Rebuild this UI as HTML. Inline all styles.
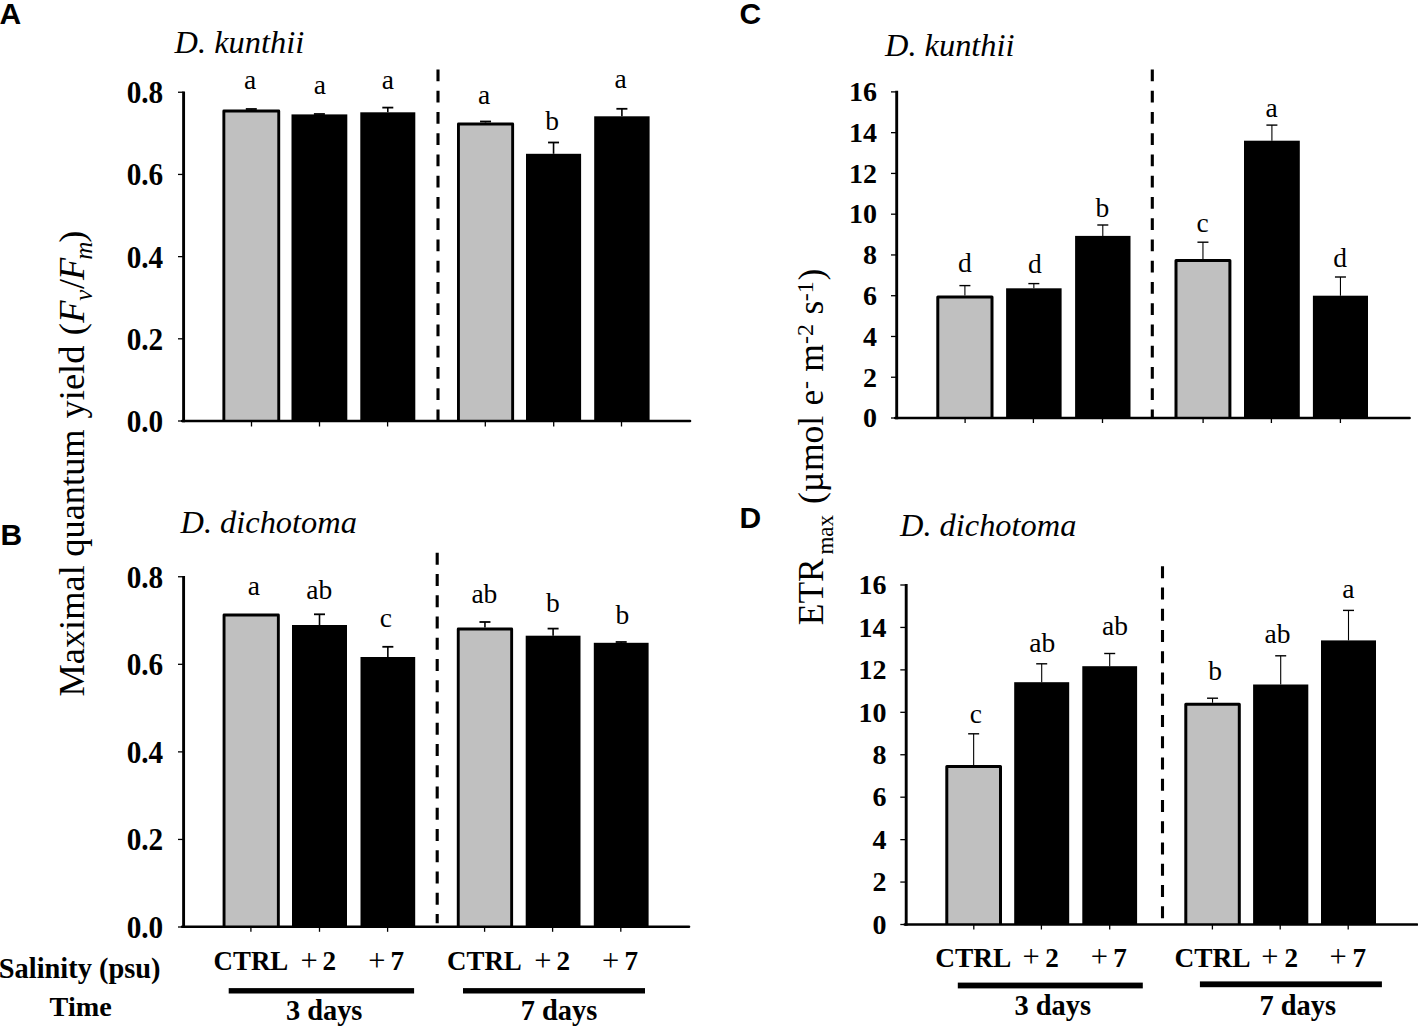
<!DOCTYPE html>
<html><head><meta charset="utf-8"><style>
html,body{margin:0;padding:0;background:#fff;}
body{width:1418px;height:1026px;overflow:hidden;font-family:"Liberation Serif",serif;}
svg{display:block;}
</style></head><body>
<svg width="1418" height="1026" viewBox="0 0 1418 1026">
<rect x="0" y="0" width="1418" height="1026" fill="#fff"/>
<rect x="223.85" y="110.95" width="54.90" height="310.05" fill="#c0c0c0"/>
<path d="M223.85,421.00 V110.95 H278.75 V421.00" fill="none" stroke="#000" stroke-width="2.9" stroke-linejoin="round"/>
<line x1="251.30" y1="109.50" x2="251.30" y2="109.00" stroke="#000" stroke-width="1.6"/>
<line x1="245.80" y1="109.00" x2="256.80" y2="109.00" stroke="#000" stroke-width="1.8"/>
<text x="250.00" y="89.30" font-size="27.5" text-anchor="middle" font-weight="normal" font-style="normal" font-family='"Liberation Serif", serif' >a</text>
<rect x="291.50" y="114.40" width="55.80" height="306.60" fill="#000"/>
<line x1="319.40" y1="114.40" x2="319.40" y2="114.00" stroke="#000" stroke-width="1.6"/>
<line x1="313.90" y1="114.00" x2="324.90" y2="114.00" stroke="#000" stroke-width="1.8"/>
<text x="319.75" y="93.80" font-size="27.5" text-anchor="middle" font-weight="normal" font-style="normal" font-family='"Liberation Serif", serif' >a</text>
<rect x="360.30" y="112.30" width="55.00" height="308.70" fill="#000"/>
<line x1="387.80" y1="112.30" x2="387.80" y2="107.60" stroke="#000" stroke-width="1.6"/>
<line x1="382.30" y1="107.60" x2="393.30" y2="107.60" stroke="#000" stroke-width="1.8"/>
<text x="387.75" y="89.00" font-size="27.5" text-anchor="middle" font-weight="normal" font-style="normal" font-family='"Liberation Serif", serif' >a</text>
<rect x="458.45" y="123.95" width="54.20" height="297.05" fill="#c0c0c0"/>
<path d="M458.45,421.00 V123.95 H512.65 V421.00" fill="none" stroke="#000" stroke-width="2.9" stroke-linejoin="round"/>
<line x1="485.55" y1="122.50" x2="485.55" y2="121.50" stroke="#000" stroke-width="1.6"/>
<line x1="480.05" y1="121.50" x2="491.05" y2="121.50" stroke="#000" stroke-width="1.8"/>
<text x="484.10" y="104.00" font-size="27.5" text-anchor="middle" font-weight="normal" font-style="normal" font-family='"Liberation Serif", serif' >a</text>
<rect x="526.00" y="153.80" width="55.10" height="267.20" fill="#000"/>
<line x1="553.55" y1="153.80" x2="553.55" y2="142.50" stroke="#000" stroke-width="1.6"/>
<line x1="548.05" y1="142.50" x2="559.05" y2="142.50" stroke="#000" stroke-width="1.8"/>
<text x="552.20" y="129.60" font-size="27.5" text-anchor="middle" font-weight="normal" font-style="normal" font-family='"Liberation Serif", serif' >b</text>
<rect x="594.20" y="116.30" width="55.40" height="304.70" fill="#000"/>
<line x1="621.90" y1="116.30" x2="621.90" y2="108.80" stroke="#000" stroke-width="1.6"/>
<line x1="616.40" y1="108.80" x2="627.40" y2="108.80" stroke="#000" stroke-width="1.8"/>
<text x="620.50" y="88.00" font-size="27.5" text-anchor="middle" font-weight="normal" font-style="normal" font-family='"Liberation Serif", serif' >a</text>
<line x1="438" y1="69.4" x2="438" y2="421" stroke="#000" stroke-width="3.1" stroke-dasharray="11.9 9.35"/>
<line x1="183.6" y1="91.5" x2="183.6" y2="422.3" stroke="#000" stroke-width="2.9"/>
<line x1="182.15" y1="421.0" x2="690" y2="421.0" stroke="#000" stroke-width="2.6" stroke-linecap="round"/>
<line x1="178" y1="92.25" x2="183.6" y2="92.25" stroke="#000" stroke-width="1.3"/>
<g transform="translate(163.2,103.15) scale(0.975,1.055)">
<text x="0" y="0" font-size="30" text-anchor="end" font-weight="bold" font-style="normal" font-family='"Liberation Serif", serif' >0.8</text>
</g>
<line x1="178" y1="174.4375" x2="183.6" y2="174.4375" stroke="#000" stroke-width="1.3"/>
<g transform="translate(163.2,185.34) scale(0.975,1.055)">
<text x="0" y="0" font-size="30" text-anchor="end" font-weight="bold" font-style="normal" font-family='"Liberation Serif", serif' >0.6</text>
</g>
<line x1="178" y1="256.625" x2="183.6" y2="256.625" stroke="#000" stroke-width="1.3"/>
<g transform="translate(163.2,267.52) scale(0.975,1.055)">
<text x="0" y="0" font-size="30" text-anchor="end" font-weight="bold" font-style="normal" font-family='"Liberation Serif", serif' >0.4</text>
</g>
<line x1="178" y1="338.8125" x2="183.6" y2="338.8125" stroke="#000" stroke-width="1.3"/>
<g transform="translate(163.2,349.71) scale(0.975,1.055)">
<text x="0" y="0" font-size="30" text-anchor="end" font-weight="bold" font-style="normal" font-family='"Liberation Serif", serif' >0.2</text>
</g>
<line x1="178" y1="421.0" x2="183.6" y2="421.0" stroke="#000" stroke-width="1.3"/>
<g transform="translate(163.2,431.90) scale(0.975,1.055)">
<text x="0" y="0" font-size="30" text-anchor="end" font-weight="bold" font-style="normal" font-family='"Liberation Serif", serif' >0.0</text>
</g>
<line x1="251.5" y1="421.0" x2="251.5" y2="426.5" stroke="#000" stroke-width="1.3"/>
<line x1="319.5" y1="421.0" x2="319.5" y2="426.5" stroke="#000" stroke-width="1.3"/>
<line x1="387.6" y1="421.0" x2="387.6" y2="426.5" stroke="#000" stroke-width="1.3"/>
<line x1="485.3" y1="421.0" x2="485.3" y2="426.5" stroke="#000" stroke-width="1.3"/>
<line x1="553.7" y1="421.0" x2="553.7" y2="426.5" stroke="#000" stroke-width="1.3"/>
<line x1="621.5" y1="421.0" x2="621.5" y2="426.5" stroke="#000" stroke-width="1.3"/>
<text x="174.6" y="53.3" font-size="32.4" text-anchor="start" font-weight="normal" font-style="italic" font-family='"Liberation Serif", serif' >D. kunthii</text>
<text x="-0.5" y="24.1" font-size="30" text-anchor="start" font-weight="bold" font-style="normal" font-family='"Liberation Sans", sans-serif' >A</text>
<rect x="224.05" y="614.95" width="54.30" height="311.85" fill="#c0c0c0"/>
<path d="M224.05,926.80 V614.95 H278.35 V926.80" fill="none" stroke="#000" stroke-width="2.9" stroke-linejoin="round"/>
<text x="253.75" y="595.40" font-size="27.5" text-anchor="middle" font-weight="normal" font-style="normal" font-family='"Liberation Serif", serif' >a</text>
<rect x="292.00" y="625.00" width="55.00" height="301.80" fill="#000"/>
<line x1="319.50" y1="625.00" x2="319.50" y2="614.30" stroke="#000" stroke-width="1.6"/>
<line x1="314.00" y1="614.30" x2="325.00" y2="614.30" stroke="#000" stroke-width="1.8"/>
<text x="319.25" y="599.00" font-size="27.5" text-anchor="middle" font-weight="normal" font-style="normal" font-family='"Liberation Serif", serif' >ab</text>
<rect x="360.50" y="657.00" width="54.70" height="269.80" fill="#000"/>
<line x1="387.85" y1="657.00" x2="387.85" y2="646.80" stroke="#000" stroke-width="1.6"/>
<line x1="382.35" y1="646.80" x2="393.35" y2="646.80" stroke="#000" stroke-width="1.8"/>
<text x="385.75" y="627.30" font-size="27.5" text-anchor="middle" font-weight="normal" font-style="normal" font-family='"Liberation Serif", serif' >c</text>
<rect x="458.25" y="629.05" width="53.40" height="297.75" fill="#c0c0c0"/>
<path d="M458.25,926.80 V629.05 H511.65 V926.80" fill="none" stroke="#000" stroke-width="2.9" stroke-linejoin="round"/>
<line x1="484.95" y1="627.60" x2="484.95" y2="622.00" stroke="#000" stroke-width="1.6"/>
<line x1="479.45" y1="622.00" x2="490.45" y2="622.00" stroke="#000" stroke-width="1.8"/>
<text x="484.40" y="602.60" font-size="27.5" text-anchor="middle" font-weight="normal" font-style="normal" font-family='"Liberation Serif", serif' >ab</text>
<rect x="525.70" y="635.70" width="54.80" height="291.10" fill="#000"/>
<line x1="553.10" y1="635.70" x2="553.10" y2="628.60" stroke="#000" stroke-width="1.6"/>
<line x1="547.60" y1="628.60" x2="558.60" y2="628.60" stroke="#000" stroke-width="1.8"/>
<text x="552.90" y="612.00" font-size="27.5" text-anchor="middle" font-weight="normal" font-style="normal" font-family='"Liberation Serif", serif' >b</text>
<rect x="593.80" y="642.80" width="54.80" height="284.00" fill="#000"/>
<line x1="621.20" y1="642.80" x2="621.20" y2="642.00" stroke="#000" stroke-width="1.6"/>
<line x1="615.70" y1="642.00" x2="626.70" y2="642.00" stroke="#000" stroke-width="1.8"/>
<text x="622.30" y="623.70" font-size="27.5" text-anchor="middle" font-weight="normal" font-style="normal" font-family='"Liberation Serif", serif' >b</text>
<line x1="437.2" y1="552.75" x2="437.2" y2="923.3" stroke="#000" stroke-width="3.1" stroke-dasharray="11.9 9.35"/>
<line x1="183.6" y1="576.0" x2="183.6" y2="928.0999999999999" stroke="#000" stroke-width="2.9"/>
<line x1="182.15" y1="926.8" x2="689" y2="926.8" stroke="#000" stroke-width="2.6" stroke-linecap="round"/>
<line x1="178" y1="576.75" x2="183.6" y2="576.75" stroke="#000" stroke-width="1.3"/>
<g transform="translate(163.2,587.65) scale(0.975,1.055)">
<text x="0" y="0" font-size="30" text-anchor="end" font-weight="bold" font-style="normal" font-family='"Liberation Serif", serif' >0.8</text>
</g>
<line x1="178" y1="664.3125" x2="183.6" y2="664.3125" stroke="#000" stroke-width="1.3"/>
<g transform="translate(163.2,675.21) scale(0.975,1.055)">
<text x="0" y="0" font-size="30" text-anchor="end" font-weight="bold" font-style="normal" font-family='"Liberation Serif", serif' >0.6</text>
</g>
<line x1="178" y1="751.875" x2="183.6" y2="751.875" stroke="#000" stroke-width="1.3"/>
<g transform="translate(163.2,762.77) scale(0.975,1.055)">
<text x="0" y="0" font-size="30" text-anchor="end" font-weight="bold" font-style="normal" font-family='"Liberation Serif", serif' >0.4</text>
</g>
<line x1="178" y1="839.4375" x2="183.6" y2="839.4375" stroke="#000" stroke-width="1.3"/>
<g transform="translate(163.2,850.34) scale(0.975,1.055)">
<text x="0" y="0" font-size="30" text-anchor="end" font-weight="bold" font-style="normal" font-family='"Liberation Serif", serif' >0.2</text>
</g>
<line x1="178" y1="927.0" x2="183.6" y2="927.0" stroke="#000" stroke-width="1.3"/>
<g transform="translate(163.2,937.90) scale(0.975,1.055)">
<text x="0" y="0" font-size="30" text-anchor="end" font-weight="bold" font-style="normal" font-family='"Liberation Serif", serif' >0.0</text>
</g>
<line x1="250.9" y1="926.8" x2="250.9" y2="931.8" stroke="#000" stroke-width="1.3"/>
<line x1="319.5" y1="926.8" x2="319.5" y2="931.8" stroke="#000" stroke-width="1.3"/>
<line x1="387.6" y1="926.8" x2="387.6" y2="931.8" stroke="#000" stroke-width="1.3"/>
<line x1="484.6" y1="926.8" x2="484.6" y2="931.8" stroke="#000" stroke-width="1.3"/>
<line x1="552.6" y1="926.8" x2="552.6" y2="931.8" stroke="#000" stroke-width="1.3"/>
<line x1="620.8" y1="926.8" x2="620.8" y2="931.8" stroke="#000" stroke-width="1.3"/>
<text x="180.5" y="532.5" font-size="32.4" text-anchor="start" font-weight="normal" font-style="italic" font-family='"Liberation Serif", serif' >D. dichotoma</text>
<text x="0.5" y="545" font-size="30" text-anchor="start" font-weight="bold" font-style="normal" font-family='"Liberation Sans", sans-serif' >B</text>
<rect x="937.80" y="296.90" width="54.20" height="121.10" fill="#c0c0c0"/>
<path d="M937.80,418.00 V296.90 H992.00 V418.00" fill="none" stroke="#000" stroke-width="3.0" stroke-linejoin="round"/>
<line x1="964.90" y1="295.40" x2="964.90" y2="285.60" stroke="#000" stroke-width="1.1"/>
<line x1="959.40" y1="285.60" x2="970.40" y2="285.60" stroke="#000" stroke-width="1.4"/>
<text x="964.80" y="272.00" font-size="27.5" text-anchor="middle" font-weight="normal" font-style="normal" font-family='"Liberation Serif", serif' >d</text>
<rect x="1006.10" y="288.30" width="55.50" height="129.70" fill="#000"/>
<line x1="1033.85" y1="288.30" x2="1033.85" y2="283.60" stroke="#000" stroke-width="1.1"/>
<line x1="1028.35" y1="283.60" x2="1039.35" y2="283.60" stroke="#000" stroke-width="1.4"/>
<text x="1034.80" y="273.10" font-size="27.5" text-anchor="middle" font-weight="normal" font-style="normal" font-family='"Liberation Serif", serif' >d</text>
<rect x="1075.10" y="235.90" width="55.40" height="182.10" fill="#000"/>
<line x1="1102.80" y1="235.90" x2="1102.80" y2="225.00" stroke="#000" stroke-width="1.1"/>
<line x1="1097.30" y1="225.00" x2="1108.30" y2="225.00" stroke="#000" stroke-width="1.4"/>
<text x="1102.30" y="217.20" font-size="27.5" text-anchor="middle" font-weight="normal" font-style="normal" font-family='"Liberation Serif", serif' >b</text>
<rect x="1176.00" y="260.50" width="53.90" height="157.50" fill="#c0c0c0"/>
<path d="M1176.00,418.00 V260.50 H1229.90 V418.00" fill="none" stroke="#000" stroke-width="3.0" stroke-linejoin="round"/>
<line x1="1202.95" y1="259.00" x2="1202.95" y2="242.20" stroke="#000" stroke-width="1.1"/>
<line x1="1197.45" y1="242.20" x2="1208.45" y2="242.20" stroke="#000" stroke-width="1.4"/>
<text x="1202.50" y="232.40" font-size="27.5" text-anchor="middle" font-weight="normal" font-style="normal" font-family='"Liberation Serif", serif' >c</text>
<rect x="1244.00" y="140.70" width="55.80" height="277.30" fill="#000"/>
<line x1="1271.90" y1="140.70" x2="1271.90" y2="125.10" stroke="#000" stroke-width="1.1"/>
<line x1="1266.40" y1="125.10" x2="1277.40" y2="125.10" stroke="#000" stroke-width="1.4"/>
<text x="1271.70" y="117.00" font-size="27.5" text-anchor="middle" font-weight="normal" font-style="normal" font-family='"Liberation Serif", serif' >a</text>
<rect x="1312.90" y="295.70" width="55.10" height="122.30" fill="#000"/>
<line x1="1340.45" y1="295.70" x2="1340.45" y2="277.00" stroke="#000" stroke-width="1.1"/>
<line x1="1334.95" y1="277.00" x2="1345.95" y2="277.00" stroke="#000" stroke-width="1.4"/>
<text x="1340.00" y="267.00" font-size="27.5" text-anchor="middle" font-weight="normal" font-style="normal" font-family='"Liberation Serif", serif' >d</text>
<line x1="1152.3" y1="69.4" x2="1152.3" y2="418" stroke="#000" stroke-width="3.1" stroke-dasharray="11.9 9.35"/>
<line x1="896.7" y1="90.8" x2="896.7" y2="419.3" stroke="#000" stroke-width="2.9"/>
<line x1="895.25" y1="418.0" x2="1409.6" y2="418.0" stroke="#000" stroke-width="2.6" stroke-linecap="round"/>
<line x1="891" y1="91.9" x2="896.7" y2="91.9" stroke="#000" stroke-width="1.3"/>
<text x="877.0" y="101.20" font-size="28" text-anchor="end" font-weight="bold" font-style="normal" font-family='"Liberation Serif", serif' >16</text>
<line x1="891" y1="132.66250000000002" x2="896.7" y2="132.66250000000002" stroke="#000" stroke-width="1.3"/>
<text x="877.0" y="141.96" font-size="28" text-anchor="end" font-weight="bold" font-style="normal" font-family='"Liberation Serif", serif' >14</text>
<line x1="891" y1="173.425" x2="896.7" y2="173.425" stroke="#000" stroke-width="1.3"/>
<text x="877.0" y="182.73" font-size="28" text-anchor="end" font-weight="bold" font-style="normal" font-family='"Liberation Serif", serif' >12</text>
<line x1="891" y1="214.1875" x2="896.7" y2="214.1875" stroke="#000" stroke-width="1.3"/>
<text x="877.0" y="223.49" font-size="28" text-anchor="end" font-weight="bold" font-style="normal" font-family='"Liberation Serif", serif' >10</text>
<line x1="891" y1="254.95000000000002" x2="896.7" y2="254.95000000000002" stroke="#000" stroke-width="1.3"/>
<text x="877.0" y="264.25" font-size="28" text-anchor="end" font-weight="bold" font-style="normal" font-family='"Liberation Serif", serif' >8</text>
<line x1="891" y1="295.7125" x2="896.7" y2="295.7125" stroke="#000" stroke-width="1.3"/>
<text x="877.0" y="305.01" font-size="28" text-anchor="end" font-weight="bold" font-style="normal" font-family='"Liberation Serif", serif' >6</text>
<line x1="891" y1="336.475" x2="896.7" y2="336.475" stroke="#000" stroke-width="1.3"/>
<text x="877.0" y="345.78" font-size="28" text-anchor="end" font-weight="bold" font-style="normal" font-family='"Liberation Serif", serif' >4</text>
<line x1="891" y1="377.23750000000007" x2="896.7" y2="377.23750000000007" stroke="#000" stroke-width="1.3"/>
<text x="877.0" y="386.54" font-size="28" text-anchor="end" font-weight="bold" font-style="normal" font-family='"Liberation Serif", serif' >2</text>
<line x1="891" y1="418.0" x2="896.7" y2="418.0" stroke="#000" stroke-width="1.3"/>
<text x="877.0" y="427.30" font-size="28" text-anchor="end" font-weight="bold" font-style="normal" font-family='"Liberation Serif", serif' >0</text>
<line x1="965.1" y1="418.0" x2="965.1" y2="423.0" stroke="#000" stroke-width="1.3"/>
<line x1="1033.4" y1="418.0" x2="1033.4" y2="423.0" stroke="#000" stroke-width="1.3"/>
<line x1="1102.5" y1="418.0" x2="1102.5" y2="423.0" stroke="#000" stroke-width="1.3"/>
<line x1="1203.1" y1="418.0" x2="1203.1" y2="423.0" stroke="#000" stroke-width="1.3"/>
<line x1="1271.4" y1="418.0" x2="1271.4" y2="423.0" stroke="#000" stroke-width="1.3"/>
<line x1="1340.4" y1="418.0" x2="1340.4" y2="423.0" stroke="#000" stroke-width="1.3"/>
<text x="885.0" y="55.5" font-size="32.4" text-anchor="start" font-weight="normal" font-style="italic" font-family='"Liberation Serif", serif' >D. kunthii</text>
<text x="739.5" y="24.4" font-size="30" text-anchor="start" font-weight="bold" font-style="normal" font-family='"Liberation Sans", sans-serif' >C</text>
<rect x="946.80" y="766.60" width="53.70" height="157.90" fill="#c0c0c0"/>
<path d="M946.80,924.50 V766.60 H1000.50 V924.50" fill="none" stroke="#000" stroke-width="3.0" stroke-linejoin="round"/>
<line x1="973.65" y1="765.10" x2="973.65" y2="733.80" stroke="#000" stroke-width="1.1"/>
<line x1="968.15" y1="733.80" x2="979.15" y2="733.80" stroke="#000" stroke-width="1.4"/>
<text x="975.90" y="722.70" font-size="27.5" text-anchor="middle" font-weight="normal" font-style="normal" font-family='"Liberation Serif", serif' >c</text>
<rect x="1014.20" y="682.20" width="55.00" height="242.30" fill="#000"/>
<line x1="1041.70" y1="682.20" x2="1041.70" y2="663.80" stroke="#000" stroke-width="1.1"/>
<line x1="1036.20" y1="663.80" x2="1047.20" y2="663.80" stroke="#000" stroke-width="1.4"/>
<text x="1042.30" y="652.00" font-size="27.5" text-anchor="middle" font-weight="normal" font-style="normal" font-family='"Liberation Serif", serif' >ab</text>
<rect x="1082.30" y="666.20" width="54.80" height="258.30" fill="#000"/>
<line x1="1109.70" y1="666.20" x2="1109.70" y2="653.50" stroke="#000" stroke-width="1.1"/>
<line x1="1104.20" y1="653.50" x2="1115.20" y2="653.50" stroke="#000" stroke-width="1.4"/>
<text x="1115.10" y="635.10" font-size="27.5" text-anchor="middle" font-weight="normal" font-style="normal" font-family='"Liberation Serif", serif' >ab</text>
<rect x="1185.80" y="704.20" width="53.50" height="220.30" fill="#c0c0c0"/>
<path d="M1185.80,924.50 V704.20 H1239.30 V924.50" fill="none" stroke="#000" stroke-width="3.0" stroke-linejoin="round"/>
<line x1="1212.55" y1="702.70" x2="1212.55" y2="698.20" stroke="#000" stroke-width="1.1"/>
<line x1="1207.05" y1="698.20" x2="1218.05" y2="698.20" stroke="#000" stroke-width="1.4"/>
<text x="1215.00" y="679.60" font-size="27.5" text-anchor="middle" font-weight="normal" font-style="normal" font-family='"Liberation Serif", serif' >b</text>
<rect x="1253.10" y="684.50" width="55.20" height="240.00" fill="#000"/>
<line x1="1280.70" y1="684.50" x2="1280.70" y2="655.80" stroke="#000" stroke-width="1.1"/>
<line x1="1275.20" y1="655.80" x2="1286.20" y2="655.80" stroke="#000" stroke-width="1.4"/>
<text x="1277.50" y="642.60" font-size="27.5" text-anchor="middle" font-weight="normal" font-style="normal" font-family='"Liberation Serif", serif' >ab</text>
<rect x="1321.00" y="640.40" width="55.00" height="284.10" fill="#000"/>
<line x1="1348.50" y1="640.40" x2="1348.50" y2="610.40" stroke="#000" stroke-width="1.1"/>
<line x1="1343.00" y1="610.40" x2="1354.00" y2="610.40" stroke="#000" stroke-width="1.4"/>
<text x="1348.30" y="597.60" font-size="27.5" text-anchor="middle" font-weight="normal" font-style="normal" font-family='"Liberation Serif", serif' >a</text>
<line x1="1162.5" y1="566.3" x2="1162.5" y2="919" stroke="#000" stroke-width="3.1" stroke-dasharray="11.9 9.35"/>
<line x1="906.2" y1="584.0" x2="906.2" y2="925.8" stroke="#000" stroke-width="2.9"/>
<line x1="904.75" y1="924.5" x2="1417" y2="924.5" stroke="#000" stroke-width="2.6" stroke-linecap="round"/>
<line x1="900.3" y1="585.0" x2="906.2" y2="585.0" stroke="#000" stroke-width="1.3"/>
<text x="886.5" y="594.30" font-size="28" text-anchor="end" font-weight="bold" font-style="normal" font-family='"Liberation Serif", serif' >16</text>
<line x1="900.3" y1="627.4375" x2="906.2" y2="627.4375" stroke="#000" stroke-width="1.3"/>
<text x="886.5" y="636.74" font-size="28" text-anchor="end" font-weight="bold" font-style="normal" font-family='"Liberation Serif", serif' >14</text>
<line x1="900.3" y1="669.875" x2="906.2" y2="669.875" stroke="#000" stroke-width="1.3"/>
<text x="886.5" y="679.17" font-size="28" text-anchor="end" font-weight="bold" font-style="normal" font-family='"Liberation Serif", serif' >12</text>
<line x1="900.3" y1="712.3125" x2="906.2" y2="712.3125" stroke="#000" stroke-width="1.3"/>
<text x="886.5" y="721.61" font-size="28" text-anchor="end" font-weight="bold" font-style="normal" font-family='"Liberation Serif", serif' >10</text>
<line x1="900.3" y1="754.75" x2="906.2" y2="754.75" stroke="#000" stroke-width="1.3"/>
<text x="886.5" y="764.05" font-size="28" text-anchor="end" font-weight="bold" font-style="normal" font-family='"Liberation Serif", serif' >8</text>
<line x1="900.3" y1="797.1875" x2="906.2" y2="797.1875" stroke="#000" stroke-width="1.3"/>
<text x="886.5" y="806.49" font-size="28" text-anchor="end" font-weight="bold" font-style="normal" font-family='"Liberation Serif", serif' >6</text>
<line x1="900.3" y1="839.625" x2="906.2" y2="839.625" stroke="#000" stroke-width="1.3"/>
<text x="886.5" y="848.92" font-size="28" text-anchor="end" font-weight="bold" font-style="normal" font-family='"Liberation Serif", serif' >4</text>
<line x1="900.3" y1="882.0625" x2="906.2" y2="882.0625" stroke="#000" stroke-width="1.3"/>
<text x="886.5" y="891.36" font-size="28" text-anchor="end" font-weight="bold" font-style="normal" font-family='"Liberation Serif", serif' >2</text>
<line x1="900.3" y1="924.5" x2="906.2" y2="924.5" stroke="#000" stroke-width="1.3"/>
<text x="886.5" y="933.80" font-size="28" text-anchor="end" font-weight="bold" font-style="normal" font-family='"Liberation Serif", serif' >0</text>
<line x1="973.8" y1="924.5" x2="973.8" y2="929.5" stroke="#000" stroke-width="1.3"/>
<line x1="1041.4" y1="924.5" x2="1041.4" y2="929.5" stroke="#000" stroke-width="1.3"/>
<line x1="1109.7" y1="924.5" x2="1109.7" y2="929.5" stroke="#000" stroke-width="1.3"/>
<line x1="1212.4" y1="924.5" x2="1212.4" y2="929.5" stroke="#000" stroke-width="1.3"/>
<line x1="1280.2" y1="924.5" x2="1280.2" y2="929.5" stroke="#000" stroke-width="1.3"/>
<line x1="1348.2" y1="924.5" x2="1348.2" y2="929.5" stroke="#000" stroke-width="1.3"/>
<text x="900.0" y="535.75" font-size="32.4" text-anchor="start" font-weight="normal" font-style="italic" font-family='"Liberation Serif", serif' >D. dichotoma</text>
<text x="739.5" y="528.1" font-size="30" text-anchor="start" font-weight="bold" font-style="normal" font-family='"Liberation Sans", sans-serif' >D</text>
<g transform="translate(84.2,697) rotate(-90)" font-family='"Liberation Serif", serif'>
<text x="66.1" y="0" font-size="36.4" text-anchor="middle" font-style="normal">Maximal</text>
<text x="204.0" y="0" font-size="36.4" text-anchor="middle" font-style="normal">quantum</text>
<text x="315.0" y="0" font-size="36.4" text-anchor="middle" font-style="normal">yield</text>
<text x="367.75" y="0" font-size="36.4" text-anchor="middle" font-style="normal">(</text>
<text x="385.3" y="0" font-size="36.4" text-anchor="middle" font-style="italic">F</text>
<text x="401.9" y="7.4" font-size="25" text-anchor="middle" font-style="italic">v</text>
<text x="413.0" y="0" font-size="36.4" text-anchor="middle" font-style="normal">/</text>
<text x="428.2" y="0" font-size="36.4" text-anchor="middle" font-style="italic">F</text>
<text x="446.3" y="7.6" font-size="25" text-anchor="middle" font-style="italic">m</text>
<text x="460.35" y="0" font-size="36.4" text-anchor="middle" font-style="normal">)</text>
</g>
<g transform="translate(823.0,624.4) rotate(-90)" font-family='"Liberation Serif", serif'>
<text x="32.65" y="0" font-size="35.5" text-anchor="middle" font-style="normal">ETR</text>
<text x="89.6" y="9.5" font-size="23" text-anchor="middle" font-style="normal">max</text>
<text x="126.2" y="0" font-size="35.5" text-anchor="middle" font-style="normal">(</text>
<text x="142.3" y="0" font-size="35.5" text-anchor="middle" font-style="normal">µ</text>
<text x="180.95" y="0" font-size="35.5" text-anchor="middle" font-style="normal">mol</text>
<text x="226.85" y="0" font-size="35.5" text-anchor="middle" font-style="normal">e</text>
<text x="239.3" y="-10.5" font-size="24" text-anchor="middle" font-style="normal">-</text>
<text x="266.45" y="0" font-size="35.5" text-anchor="middle" font-style="normal">m</text>
<text x="290.5" y="-10.5" font-size="24" text-anchor="middle" font-style="normal">-2</text>
<text x="316.8" y="0" font-size="35.5" text-anchor="middle" font-style="normal">s</text>
<text x="333.05" y="-10.5" font-size="24" text-anchor="middle" font-style="normal">-1</text>
<text x="349.7" y="0" font-size="35.5" text-anchor="middle" font-style="normal">)</text>
</g>
<text x="250.90" y="970.30" font-size="26.9" text-anchor="middle" font-weight="bold" font-style="normal" font-family='"Liberation Serif", serif' >CTRL</text>
<text x="309.05" y="971.20" font-size="30.5" text-anchor="middle" font-weight="normal" font-style="normal" font-family='"Liberation Serif", serif' >+</text>
<text x="329.25" y="970.30" font-size="27.2" text-anchor="middle" font-weight="bold" font-style="normal" font-family='"Liberation Serif", serif' >2</text>
<text x="376.95" y="971.20" font-size="30.5" text-anchor="middle" font-weight="normal" font-style="normal" font-family='"Liberation Serif", serif' >+</text>
<text x="397.25" y="970.30" font-size="27.2" text-anchor="middle" font-weight="bold" font-style="normal" font-family='"Liberation Serif", serif' >7</text>
<text x="484.40" y="970.30" font-size="26.9" text-anchor="middle" font-weight="bold" font-style="normal" font-family='"Liberation Serif", serif' >CTRL</text>
<text x="542.90" y="971.20" font-size="30.5" text-anchor="middle" font-weight="normal" font-style="normal" font-family='"Liberation Serif", serif' >+</text>
<text x="563.30" y="970.30" font-size="27.2" text-anchor="middle" font-weight="bold" font-style="normal" font-family='"Liberation Serif", serif' >2</text>
<text x="610.70" y="971.20" font-size="30.5" text-anchor="middle" font-weight="normal" font-style="normal" font-family='"Liberation Serif", serif' >+</text>
<text x="631.35" y="970.30" font-size="27.2" text-anchor="middle" font-weight="bold" font-style="normal" font-family='"Liberation Serif", serif' >7</text>
<text x="973.35" y="966.50" font-size="27.4" text-anchor="middle" font-weight="bold" font-style="normal" font-family='"Liberation Serif", serif' >CTRL</text>
<text x="1031.10" y="967.40" font-size="30.5" text-anchor="middle" font-weight="normal" font-style="normal" font-family='"Liberation Serif", serif' >+</text>
<text x="1052.00" y="966.50" font-size="27.2" text-anchor="middle" font-weight="bold" font-style="normal" font-family='"Liberation Serif", serif' >2</text>
<text x="1099.25" y="967.40" font-size="30.5" text-anchor="middle" font-weight="normal" font-style="normal" font-family='"Liberation Serif", serif' >+</text>
<text x="1120.05" y="966.50" font-size="27.2" text-anchor="middle" font-weight="bold" font-style="normal" font-family='"Liberation Serif", serif' >7</text>
<text x="1212.55" y="966.50" font-size="27.4" text-anchor="middle" font-weight="bold" font-style="normal" font-family='"Liberation Serif", serif' >CTRL</text>
<text x="1269.90" y="967.40" font-size="30.5" text-anchor="middle" font-weight="normal" font-style="normal" font-family='"Liberation Serif", serif' >+</text>
<text x="1291.25" y="966.50" font-size="27.2" text-anchor="middle" font-weight="bold" font-style="normal" font-family='"Liberation Serif", serif' >2</text>
<text x="1338.15" y="967.40" font-size="30.5" text-anchor="middle" font-weight="normal" font-style="normal" font-family='"Liberation Serif", serif' >+</text>
<text x="1359.30" y="966.50" font-size="27.2" text-anchor="middle" font-weight="bold" font-style="normal" font-family='"Liberation Serif", serif' >7</text>
<rect x="228.7" y="988.1" width="185.4" height="5.4" fill="#000"/>
<rect x="463" y="988.1" width="182" height="5.4" fill="#000"/>
<rect x="957.8" y="982.6" width="185" height="5.8" fill="#000"/>
<rect x="1199.9" y="981.4" width="182" height="5.8" fill="#000"/>
<text x="324.15" y="1020.00" font-size="28.4" text-anchor="middle" font-weight="bold" font-style="normal" font-family='"Liberation Serif", serif' >3 days</text>
<text x="559.00" y="1020.00" font-size="28.4" text-anchor="middle" font-weight="bold" font-style="normal" font-family='"Liberation Serif", serif' >7 days</text>
<text x="1052.80" y="1015.00" font-size="28.4" text-anchor="middle" font-weight="bold" font-style="normal" font-family='"Liberation Serif", serif' >3 days</text>
<text x="1297.70" y="1015.00" font-size="28.4" text-anchor="middle" font-weight="bold" font-style="normal" font-family='"Liberation Serif", serif' >7 days</text>
<text x="-1.2" y="977.5" font-size="28.4" text-anchor="start" font-weight="bold" font-style="normal" font-family='"Liberation Serif", serif' >Salinity (psu)</text>
<text x="49.6" y="1016" font-size="28.2" text-anchor="start" font-weight="bold" font-style="normal" font-family='"Liberation Serif", serif' >Time</text>
</svg>
</body></html>
